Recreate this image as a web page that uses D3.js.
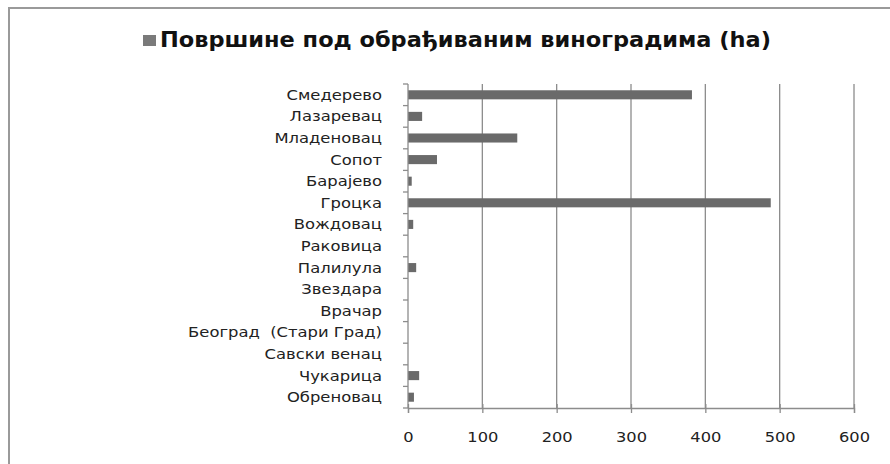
<!DOCTYPE html>
<html>
<head>
<meta charset="utf-8">
<script src="https://cdn.jsdelivr.net/npm/d3@7/dist/d3.min.js"></script>
<style>
  html, body { margin: 0; padding: 0; background: #fff; }
  svg { display: block; }
  text { font-family: "DejaVu Sans", Verdana, sans-serif; white-space: pre; }
</style>
</head>
<body>
<svg id="chart" width="890" height="464"></svg>
<script>
const title = "Површине под обрађиваним виноградима (ha)";
const categories = ["Смедерево", "Лазаревац", "Младеновац", "Сопот", "Барајево", "Гроцка", "Вождовац", "Раковица", "Палилула", "Звездара", "Врачар", "Београд  (Стари Град)", "Савски венац", "Чукарица", "Обреновац"];
const values = [382, 19, 147, 39, 5, 488, 7, 0, 11, 0, 0, 0, 0, 15, 8];
const xTicks = [0, 100, 200, 300, 400, 500, 600];

const svg = d3.select("#chart");
svg.append("rect").attr("width", 890).attr("height", 464).attr("fill", "#fff");

// outer frame
svg.append("rect").attr("x", 9).attr("y", 8).attr("width", 900).attr("height", 480)
  .attr("fill", "none").attr("stroke", "#9a9a9a").attr("stroke-width", 2);

const x = d3.scaleLinear().domain([0, 600]).range([408, 854]);
const y = d3.scaleBand().domain(categories).range([84, 408]).paddingInner(0.58).paddingOuter(0.29);

function stretch(sel, k) {
  sel.each(function () {
    const len = this.getComputedTextLength();
    if (len > 0) d3.select(this).attr("textLength", len * k).attr("lengthAdjust", "spacingAndGlyphs");
  });
}

// gridlines
svg.append("g").selectAll("line").data(xTicks.filter(d => d > 0)).join("line")
  .attr("x1", d => x(d)).attr("x2", d => x(d)).attr("y1", 84).attr("y2", 408)
  .attr("stroke", "#8c8c8c").attr("stroke-width", 1.3);

// bars
svg.append("g").selectAll("rect").data(values).join("rect")
  .attr("x", x(0)).attr("y", (d, i) => y(categories[i]))
  .attr("width", d => x(d) - x(0)).attr("height", y.bandwidth())
  .attr("fill", "#6a6a6a");

// x axis
const xAxis = svg.append("g").attr("transform", "translate(0,408)")
  .call(d3.axisBottom(x).tickValues(xTicks).tickSize(5).tickPadding(19).tickFormat(d3.format("d")));
xAxis.select(".domain").attr("stroke", "#8c8c8c").attr("stroke-width", 1.3);
xAxis.selectAll(".tick line").attr("stroke", "#8c8c8c").attr("stroke-width", 1.3).attr("y1", -4);
xAxis.selectAll(".tick text").attr("font-size", 14).attr("fill", "#222").attr("font-family", "DejaVu Sans")
  .call(stretch, 1.16);

// y axis
const yAxis = svg.append("g").attr("transform", "translate(408,0)")
  .call(d3.axisLeft(y).tickSize(0).tickPadding(26));
yAxis.select(".domain").remove();
yAxis.append("line").attr("x1", 0).attr("x2", 0).attr("y1", 84).attr("y2", 408)
  .attr("stroke", "#8c8c8c").attr("stroke-width", 1.3);
const bounds = d3.range(categories.length + 1).map(i => 84 + i * (324 / categories.length));
yAxis.selectAll("line.b").data(bounds).join("line").attr("class", "b")
  .attr("x1", -5).attr("x2", 0).attr("y1", d => d).attr("y2", d => d)
  .attr("stroke", "#8c8c8c").attr("stroke-width", 1.3);
yAxis.selectAll(".tick text").attr("font-size", 14).attr("fill", "#222").attr("font-family", "DejaVu Sans")
  .attr("dy", "0.36em").call(stretch, 1.17);

// title with legend swatch
svg.append("rect").attr("x", 143).attr("y", 35).attr("width", 13).attr("height", 11).attr("fill", "#7a7a7a");
svg.append("text").attr("x", 160).attr("y", 47).attr("font-size", 21).attr("font-weight", "bold")
  .attr("fill", "#111").attr("textLength", 611).attr("lengthAdjust", "spacingAndGlyphs").text(title);
</script>
</body>
</html>
